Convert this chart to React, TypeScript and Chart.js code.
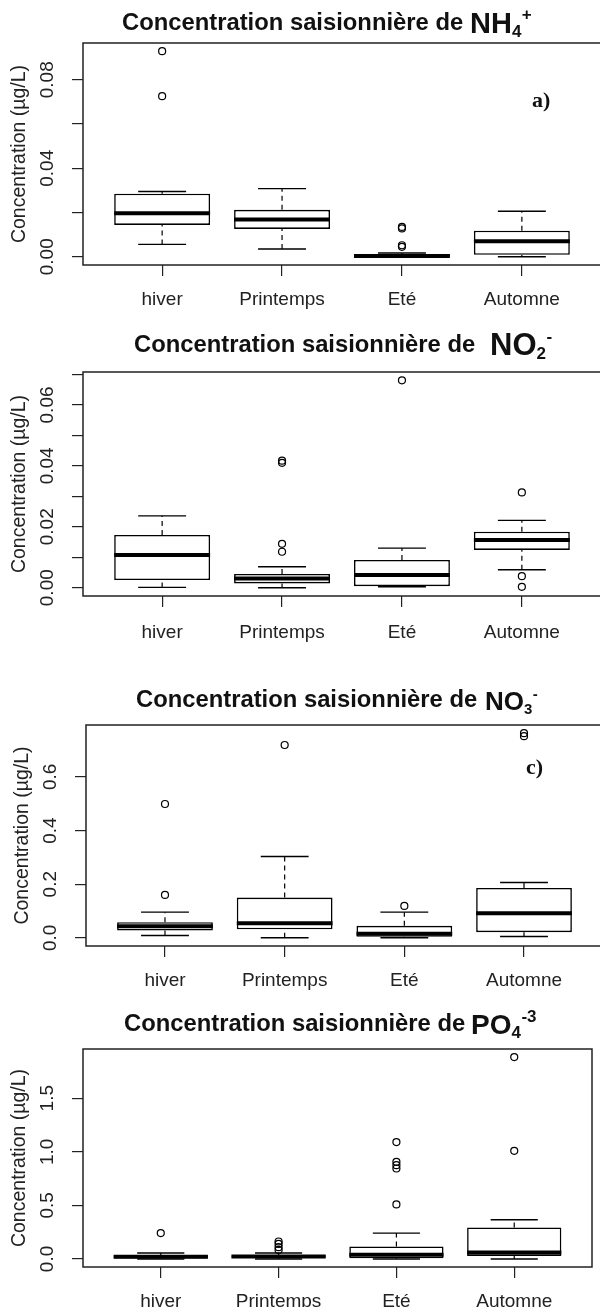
import React, { useEffect, useRef } from "react";
import { Chart, registerables } from "chart.js";
Chart.register(...registerables);

const FONT = '"Liberation Sans", Arial, sans-serif';
const SERIF = '"Liberation Serif", "Times New Roman", serif';

const categories = ["hiver", "Printemps", "Eté", "Automne"];
const yAxisTitle = "Concentration (µg/L)";
const titlePrefix = "Concentration saisionnière de";

// ---- NH4+ ----
const nh4Low = [0.0056, 0.0035, 0.0, 0.0];
const nh4Q1 = [0.0144, 0.0126, 0.0, 0.0009];
const nh4Median = [0.0197, 0.0168, 0.0003, 0.007];
const nh4Q3 = [0.0285, 0.0212, 0.0012, 0.0118];
const nh4High = [0.0295, 0.0308, 0.0017, 0.0206];
const nh4Outliers = [[0.0929, 0.0726], [], [0.0135, 0.0128, 0.0052, 0.0045], []];
const nh4Ticks = [0, 0.02, 0.04, 0.06, 0.08];
const nh4TickLabels = ["0.00", "", "0.04", "", "0.08"];

// ---- NO2- ----
const no2Low = [0.0001, 0.0, 0.0003, 0.0059];
const no2Q1 = [0.0025, 0.0014, 0.0005, 0.0124];
const no2Median = [0.0107, 0.003, 0.0042, 0.0157];
const no2Q3 = [0.0173, 0.0045, 0.0091, 0.0184];
const no2High = [0.0236, 0.0069, 0.013, 0.0221];
const no2Outliers = [[], [0.0417, 0.041, 0.0144, 0.0118], [0.0681], [0.0313, 0.0038, 0.0003]];
const no2Ticks = [0, 0.01, 0.02, 0.03, 0.04, 0.05, 0.06, 0.07];
const no2TickLabels = ["0.00", "", "0.02", "", "0.04", "", "0.06", ""];

// ---- NO3- ----
const no3Low = [0.0087, 0.0, 0.0, 0.005];
const no3Q1 = [0.027, 0.032, 0.0037, 0.021];
const no3Median = [0.0435, 0.0547, 0.015, 0.092];
const no3Q3 = [0.058, 0.15, 0.0447, 0.186];
const no3High = [0.0957, 0.303, 0.0957, 0.206];
const no3Outliers = [[0.499, 0.16], [0.719], [0.119], [0.763, 0.752]];
const no3Ticks = [0, 0.2, 0.4, 0.6];
const no3TickLabels = ["0.0", "0.2", "0.4", "0.6"];

// ---- PO4-3 ----
const po4Low = [0.0, 0.0, 0.0, 0.0];
const po4Q1 = [0.005, 0.01, 0.006, 0.028];
const po4Median = [0.02, 0.022, 0.04, 0.059];
const po4Q3 = [0.035, 0.034, 0.116, 0.294];
const po4High = [0.056, 0.056, 0.241, 0.366];
const po4Outliers = [[0.241], [0.1625, 0.14, 0.11, 0.084], [1.091, 0.906, 0.875, 0.844, 0.509], [1.884, 1.009]];
const po4Ticks = [0, 0.5, 1.0, 1.5];
const po4TickLabels = ["0.0", "0.5", "1.0", "1.5"];

type PanelCfg = {
  top: number; width: number; height: number;
  padTop: number; padLeft: number; padRight: number; yWidth: number; boxBottom: number; xHeight: number; labelGap: number;
  low: number[]; q1: number[]; med: number[]; q3: number[]; high: number[]; outliers: number[][];
  ticks: number[]; tickLabels: string[];
  titleX: number; titleY: number; formulaX: number; formulaMain: string; formulaSub: string; formulaSup: string; formulaSize: number; subSize: number;
  tag?: string; tagX?: number; tagY?: number;
};

const panels: PanelCfg[] = [
  { top: 0, width: 610, height: 322, padTop: 43, padLeft: 0, padRight: 9, yWidth: 83, boxBottom: 265, xHeight: 50, labelGap: 35,
    low: nh4Low, q1: nh4Q1, med: nh4Median, q3: nh4Q3, high: nh4High, outliers: nh4Outliers, ticks: nh4Ticks, tickLabels: nh4TickLabels,
    titleX: 122, titleY: 29.5, formulaX: 470, formulaMain: "NH", formulaSub: "4", formulaSup: "+", formulaSize: 29, subSize: 17,
    tag: "a)", tagX: 532, tagY: 107 },
  { top: 322, width: 610, height: 338, padTop: 50, padLeft: 0, padRight: 9, yWidth: 83, boxBottom: 274, xHeight: 50, labelGap: 37,
    low: no2Low, q1: no2Q1, med: no2Median, q3: no2Q3, high: no2High, outliers: no2Outliers, ticks: no2Ticks, tickLabels: no2TickLabels,
    titleX: 134, titleY: 30, formulaX: 490, formulaMain: "NO", formulaSub: "2", formulaSup: "-", formulaSize: 31, subSize: 17 },
  { top: 660, width: 610, height: 340, padTop: 65, padLeft: 3, padRight: 7, yWidth: 83, boxBottom: 286, xHeight: 50, labelGap: 35,
    low: no3Low, q1: no3Q1, med: no3Median, q3: no3Q3, high: no3High, outliers: no3Outliers, ticks: no3Ticks, tickLabels: no3TickLabels,
    titleX: 136, titleY: 47, formulaX: 485, formulaMain: "NO", formulaSub: "3", formulaSup: "-", formulaSize: 26, subSize: 15,
    tag: "c)", tagX: 526, tagY: 114 },
  { top: 1000, width: 600, height: 311, padTop: 49, padLeft: 0, padRight: 8, yWidth: 83, boxBottom: 267, xHeight: 40, labelGap: 35,
    low: po4Low, q1: po4Q1, med: po4Median, q3: po4Q3, high: po4High, outliers: po4Outliers, ticks: po4Ticks, tickLabels: po4TickLabels,
    titleX: 124, titleY: 31, formulaX: 471, formulaMain: "PO", formulaSub: "4", formulaSup: "-3", formulaSize: 28, subSize: 17 },
];

const TICK_SIZE = 19;
const TICK_LEN = 11;

function Panel({ cfg }: { cfg: PanelCfg }) {
  const ref = useRef<HTMLCanvasElement>(null);
  useEffect(() => {
    const canvas = ref.current!;
    const mctx = canvas.getContext("2d")!;
    mctx.font = `${TICK_SIZE}px ${FONT}`;
    const widest = Math.max(...cfg.tickLabels.map((l) => mctx.measureText(l).width));

    const xs = categories.map((_, i) => i + 1);
    const boxData = xs.map((x, i) => ({ x, y: [cfg.q1[i], cfg.q3[i]] }));
    const medData: any[] = [];
    const whiskerData: any[] = [];
    const stapleData: any[] = [];
    const outData: any[] = [];
    xs.forEach((x, i) => {
      medData.push({ x: x - 0.4, y: cfg.med[i] }, { x: x + 0.4, y: cfg.med[i] }, { x: x + 0.4, y: null });
      whiskerData.push({ x, y: cfg.q3[i] }, { x, y: cfg.high[i] }, { x, y: null }, { x, y: cfg.low[i] }, { x, y: cfg.q1[i] }, { x, y: null });
      stapleData.push({ x: x - 0.2, y: cfg.high[i] }, { x: x + 0.2, y: cfg.high[i] }, { x: x + 0.2, y: null },
        { x: x - 0.2, y: cfg.low[i] }, { x: x + 0.2, y: cfg.low[i] }, { x: x + 0.2, y: null });
      cfg.outliers[i].forEach((v) => outData.push({ x, y: v }));
    });
    const all = [...cfg.low, ...cfg.high, ...cfg.outliers.flat()];
    const dmin = Math.min(...all);
    const dmax = Math.max(...all);
    const ext = (dmax - dmin) * 0.04;
    const nCat = categories.length;
    const xExt = nCat * 0.04;

    const decor = {
      id: "decor",
      afterDraw(chart: any) {
        const { ctx, chartArea: a } = chart;
        ctx.save();
        ctx.strokeStyle = "#222";
        ctx.lineWidth = 1.5;
        ctx.strokeRect(a.left, a.top, a.right - a.left, a.bottom - a.top);
        ctx.fillStyle = "#111";
        ctx.textAlign = "left";
        ctx.textBaseline = "alphabetic";
        ctx.font = `bold 23.8px ${FONT}`;
        ctx.fillText(titlePrefix, cfg.titleX, cfg.titleY);
        const fb = cfg.titleY + 3;
        ctx.font = `bold ${cfg.formulaSize}px ${FONT}`;
        ctx.fillText(cfg.formulaMain, cfg.formulaX, fb);
        const wMain = ctx.measureText(cfg.formulaMain).width;
        ctx.font = `bold ${cfg.subSize}px ${FONT}`;
        ctx.fillText(cfg.formulaSub, cfg.formulaX + wMain, fb + 4);
        const wSub = ctx.measureText(cfg.formulaSub).width;
        ctx.fillText(cfg.formulaSup, cfg.formulaX + wMain + wSub + 0.5, fb - cfg.formulaSize * 0.42);
        if (cfg.tag) {
          ctx.font = `bold 22px ${SERIF}`;
          ctx.fillText(cfg.tag, cfg.tagX!, cfg.tagY!);
        }
        ctx.restore();
      },
    };

    const gridOpts = { display: true, drawOnChartArea: false, drawTicks: true, tickLength: TICK_LEN, color: "#222", lineWidth: 1.2, offset: false };

    const chart = new Chart(canvas, {
      type: "bar",
      data: {
        datasets: [
          { type: "line", data: medData, borderColor: "#000", borderWidth: 4, pointRadius: 0, spanGaps: false, borderCapStyle: "butt", order: 0 } as any,
          { type: "scatter", data: outData, pointRadius: 3.5, pointBorderWidth: 1.2, borderColor: "#000", backgroundColor: "rgba(0,0,0,0)", pointBackgroundColor: "rgba(0,0,0,0)", pointBorderColor: "#000", order: 0 } as any,
          { type: "bar", data: boxData, backgroundColor: "#fff", borderColor: "#000", borderWidth: 1.6, borderSkipped: false, barPercentage: 0.8, categoryPercentage: 1, order: 2 } as any,
          { type: "line", data: whiskerData, borderColor: "#000", borderWidth: 1.2, borderDash: [5, 4], pointRadius: 0, spanGaps: false, order: 3 } as any,
          { type: "line", data: stapleData, borderColor: "#000", borderWidth: 1.4, pointRadius: 0, spanGaps: false, borderCapStyle: "butt", order: 3 } as any,
        ],
      },
      options: {
        responsive: false,
        animation: false,
        events: [],
        layout: { padding: { top: cfg.padTop, left: cfg.padLeft, right: cfg.padRight, bottom: cfg.height - cfg.boxBottom - cfg.xHeight } },
        plugins: { legend: { display: false }, tooltip: { enabled: false }, title: { display: false } },
        scales: {
          x: {
            type: "linear", min: 0.5 - xExt, max: nCat + 0.5 + xExt, offset: false,
            afterBuildTicks: (s: any) => { s.ticks = xs.map((v) => ({ value: v })); },
            afterFit: (s: any) => { s.height = cfg.xHeight; },
            ticks: {
              callback: (v: any) => categories[Math.round(Number(v)) - 1] ?? "",
              autoSkip: false, maxRotation: 0, minRotation: 0,
              padding: cfg.labelGap - TICK_LEN - TICK_SIZE / 2,
              font: { family: FONT, size: TICK_SIZE, lineHeight: 1 }, color: "#222",
            },
            grid: gridOpts, border: { display: false },
          },
          y: {
            type: "linear", min: dmin - ext, max: dmax + ext,
            afterBuildTicks: (s: any) => { s.ticks = cfg.ticks.map((v) => ({ value: v })); },
            afterFit: (s: any) => { s.width = cfg.yWidth; },
            ticks: {
              callback: (_v: any, i: number) => cfg.tickLabels[i] ?? "",
              autoSkip: false, minRotation: 90, maxRotation: 90, crossAlign: "center",
              padding: 35 - TICK_LEN - widest / 2,
              font: { family: FONT, size: TICK_SIZE, lineHeight: 1 }, color: "#222",
            },
            grid: gridOpts, border: { display: false },
            title: { display: true, text: yAxisTitle, color: "#222", font: { family: FONT, size: 19.5, lineHeight: 1 }, padding: { top: 10, bottom: 0 } },
          },
        },
      } as any,
      plugins: [decor],
    });
    return () => chart.destroy();
  }, [cfg]);
  return (
    <canvas ref={ref} width={cfg.width} height={cfg.height}
      style={{ position: "absolute", left: 0, top: cfg.top, width: cfg.width, height: cfg.height }} />
  );
}

export default function App() {
  return (
    <div style={{ position: "absolute", left: 0, top: 0, width: 600, height: 1311, overflow: "hidden", background: "#fff" }}>
      {panels.map((p, i) => <Panel key={i} cfg={p} />)}
    </div>
  );
}
